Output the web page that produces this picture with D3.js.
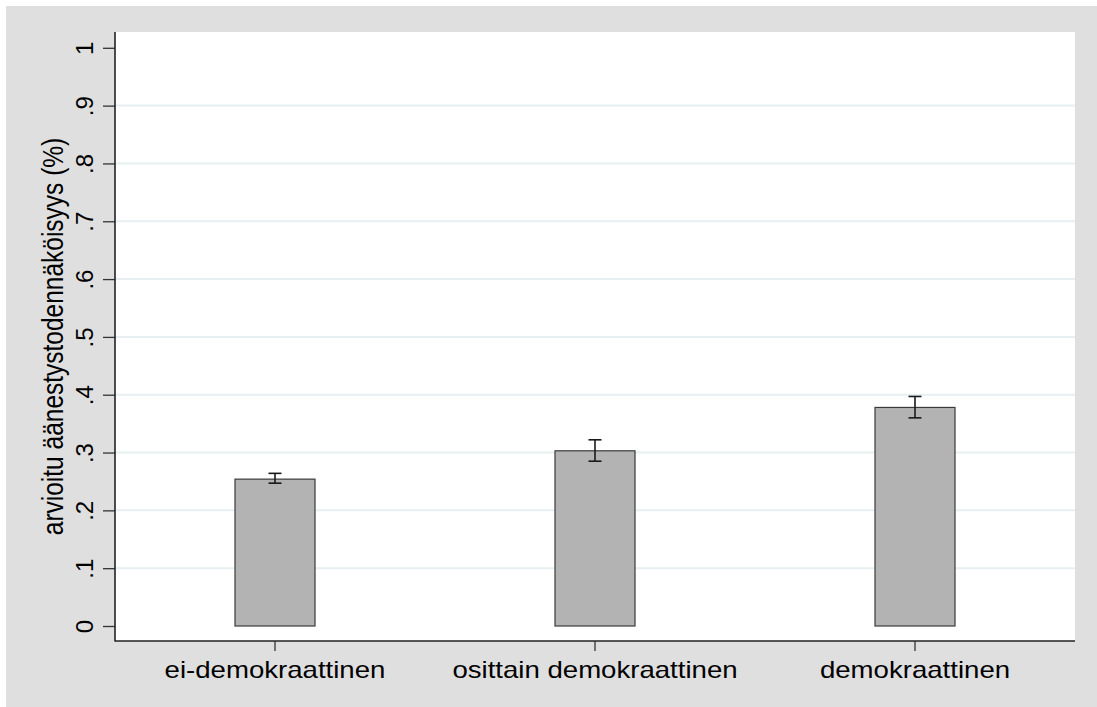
<!DOCTYPE html>
<html>
<head>
<meta charset="utf-8">
<script src="https://cdn.jsdelivr.net/npm/d3@7"></script>
<style>
  html, body { margin: 0; padding: 0; background: #ffffff; }
  svg { display: block; }
  text { font-family: "Liberation Sans", Arial, sans-serif; fill: #000; }
</style>
</head>
<body>
<svg id="chart" width="1097" height="707"></svg>
<script>
const categories = ["ei-demokraattinen", "osittain demokraattinen", "demokraattinen"];
const values = [0.254, 0.303, 0.378];
const lowerCI = [0.247, 0.285, 0.360];
const upperCI = [0.264, 0.322, 0.397];
const yTickValues = [0, 0.1, 0.2, 0.3, 0.4, 0.5, 0.6, 0.7, 0.8, 0.9, 1];
const yTickLabels = ["0", ".1", ".2", ".3", ".4", ".5", ".6", ".7", ".8", ".9", "1"];
const gridValues = [0.1, 0.2, 0.3, 0.4, 0.5, 0.6, 0.7, 0.8, 0.9];
const yTitle = "arvioitu äänestystodennäköisyys (%)";

const W = 1097, H = 707;
const plot = { left: 115, right: 1075, top: 32, bottom: 641 };
const sx = 1.2; // horizontal text stretch of the original

const svg = d3.select("#chart");

// outer graph region
svg.append("rect").attr("x", 6).attr("y", 6).attr("width", W - 6).attr("height", H - 6).attr("fill", "#dfdfdf");
// plot region
svg.append("rect").attr("x", plot.left).attr("y", plot.top)
  .attr("width", plot.right - plot.left).attr("height", plot.bottom - plot.top).attr("fill", "#ffffff");

const x = d3.scaleBand().domain(categories).range([plot.left, plot.right]).padding(0);
const y = d3.scaleLinear().domain([0, 1]).range([626, 47.8]);
const barW = x.bandwidth() * 0.25;

// gridlines
svg.append("g").selectAll("line").data(gridValues).join("line")
  .attr("x1", plot.left).attr("x2", plot.right)
  .attr("y1", d => y(d)).attr("y2", d => y(d))
  .attr("stroke", "#e6eff1").attr("stroke-width", 2);

// bars
const data = categories.map((c, i) => ({ c, v: values[i], lo: lowerCI[i], hi: upperCI[i] }));
svg.append("g").selectAll("rect").data(data).join("rect")
  .attr("x", d => x(d.c) + x.bandwidth() / 2 - barW / 2)
  .attr("y", d => y(d.v))
  .attr("width", barW)
  .attr("height", d => y(0) - y(d.v))
  .attr("fill", "#b3b3b3")
  .attr("stroke", "#3a3a3a").attr("stroke-width", 1.2);

// error bars
const eg = svg.append("g").attr("stroke", "#1a1a1a").attr("stroke-width", 1.6);
data.forEach(d => {
  const cx = x(d.c) + x.bandwidth() / 2;
  eg.append("line").attr("x1", cx).attr("x2", cx).attr("y1", y(d.hi)).attr("y2", y(d.lo));
  eg.append("line").attr("x1", cx - 6.5).attr("x2", cx + 6.5).attr("y1", y(d.hi)).attr("y2", y(d.hi));
  eg.append("line").attr("x1", cx - 6.5).attr("x2", cx + 6.5).attr("y1", y(d.lo)).attr("y2", y(d.lo));
});

// y axis
const yAxis = d3.axisLeft(y).tickValues(yTickValues)
  .tickFormat((d, i) => yTickLabels[i]).tickSize(12).tickPadding(0);
const yg = svg.append("g").attr("transform", `translate(${plot.left},0)`).call(yAxis);
yg.select(".domain").remove();
yg.selectAll(".tick line").attr("stroke", "#333").attr("stroke-width", 1.3);
yg.selectAll(".tick text")
  .attr("x", null).attr("dy", null)
  .attr("text-anchor", "middle")
  .attr("font-size", 24)
  .attr("transform", `translate(-22,0) scale(1.02,1) rotate(-90)`);

// x axis
const xAxis = d3.axisBottom(x).tickSize(10).tickPadding(0);
const xg = svg.append("g").attr("transform", `translate(0,${plot.bottom})`).call(xAxis);
xg.select(".domain").remove();
xg.selectAll(".tick line").attr("stroke", "#333").attr("stroke-width", 1.3);
xg.selectAll(".tick text")
  .attr("y", null).attr("dy", null)
  .attr("text-anchor", "middle")
  .attr("font-size", 23)
  .attr("transform", `translate(0,36.7) scale(${sx},1)`);

// axis lines
svg.append("line").attr("x1", plot.left).attr("x2", plot.left)
  .attr("y1", plot.top).attr("y2", plot.bottom + 0.5)
  .attr("stroke", "#222").attr("stroke-width", 1.6);
svg.append("line").attr("x1", plot.left).attr("x2", plot.right)
  .attr("y1", plot.bottom).attr("y2", plot.bottom)
  .attr("stroke", "#222").attr("stroke-width", 1.6);

// y title
svg.append("text")
  .attr("text-anchor", "middle")
  .attr("font-size", 24.5)
  .attr("transform", `translate(63,${(plot.top + plot.bottom) / 2}) scale(${sx},1) rotate(-90)`)
  .text(yTitle);
</script>
</body>
</html>
